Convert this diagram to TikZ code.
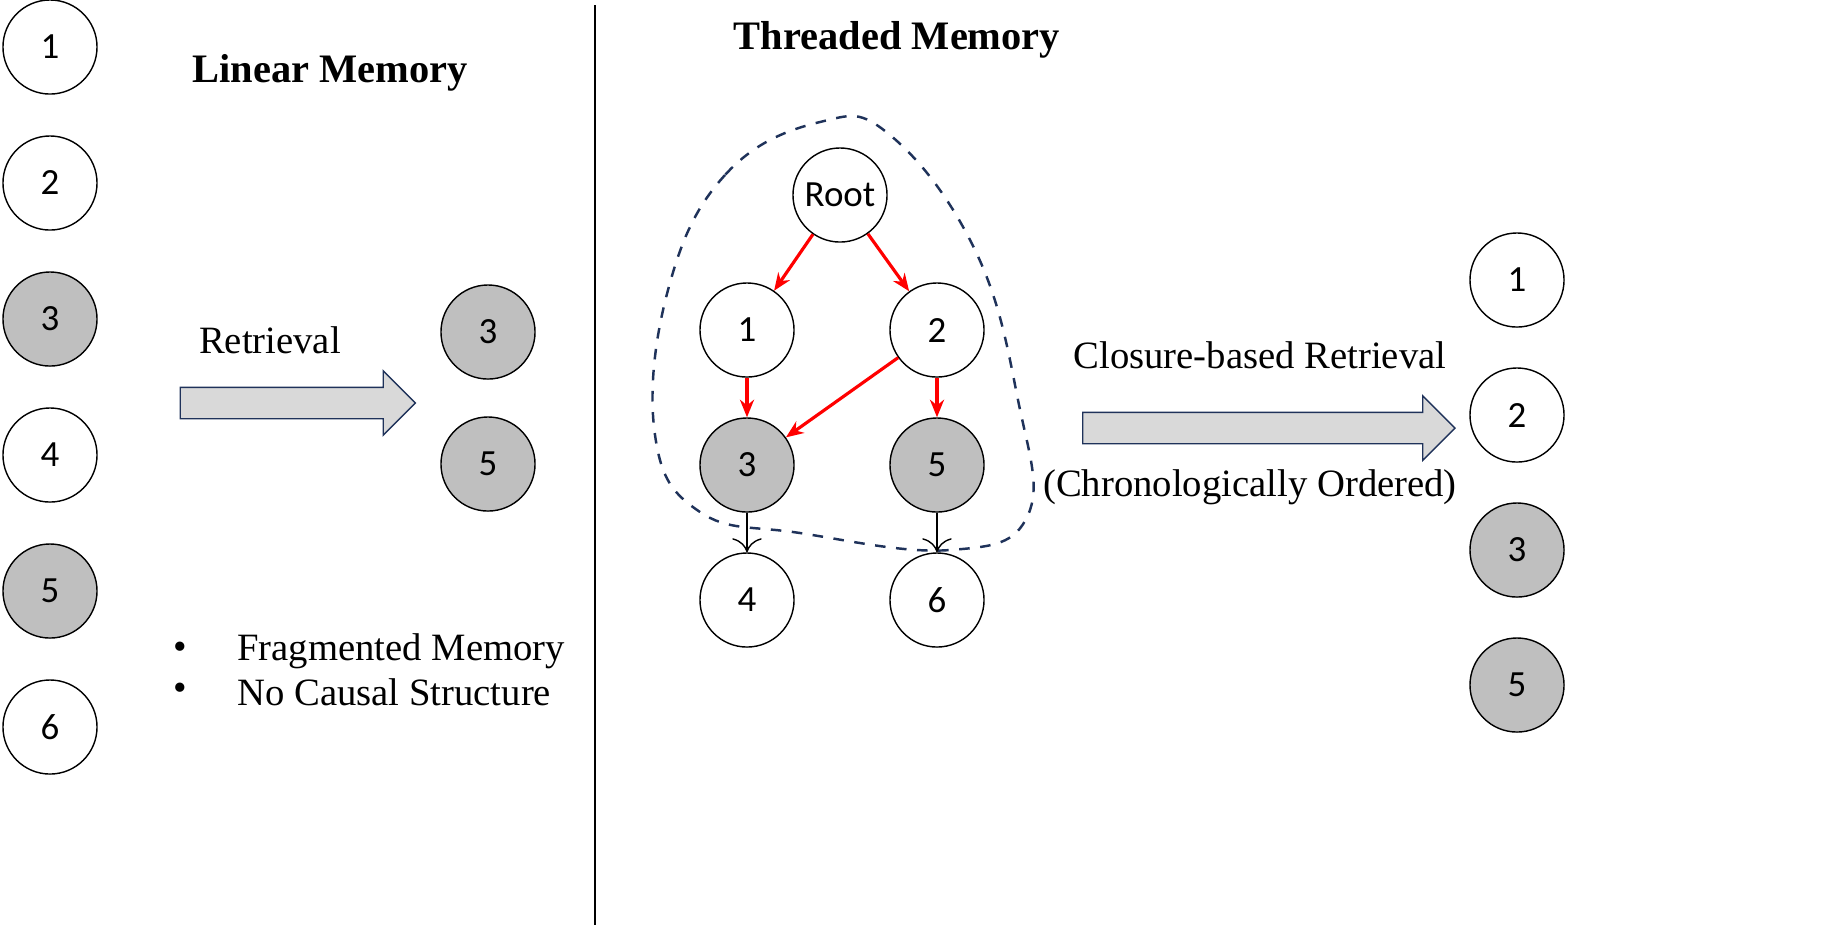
\documentclass[tikz,border=0pt]{standalone}
\usepackage{fontspec}
\setmainfont{Liberation Serif}
\newfontfamily\digitfont{Carlito}
\usetikzlibrary{shapes.arrows,arrows.meta}
\definecolor{cellgray}{RGB}{191,191,191}
\definecolor{barfill}{RGB}{217,217,217}
\definecolor{navy}{RGB}{31,50,90}
\tikzset{
  cell/.style={circle, draw=black, fill=white, minimum size=0.94cm, inner sep=0pt, font=\digitfont\fontsize{10.5}{11}\selectfont},
  hit/.style={cell, fill=cellgray},
  bigarrow/.style={single arrow, draw=navy, fill=barfill, single arrow head extend=0.165cm, inner sep=0.15cm, minimum height=#1},
  label/.style={font=\fontsize{11}{12}\selectfont},
  head/.style={font=\bfseries\fontsize{11.5}{12}\selectfont},
  causal/.style={draw=red, line width=0.9pt, -{Stealth[length=5pt,width=4pt]}},
  follow/.style={draw=black, line width=0.4pt, -{To[length=4pt]}}
}
\begin{document}
\begin{tikzpicture}[x=0.01cm, y=-0.01cm]
    \useasboundingbox (0,0) rectangle (1843,929);
    % linear memory column
    \path
    (50,47) node[cell] (l1) {1}
    (50,183) node[cell] (l2) {2}
    (50,319) node[hit] (l3) {3}
    (50,455) node[cell] (l4) {4}
    (50,591) node[hit] (l5) {5}
    (50,727) node[cell] (l6) {6};
    \path (330,73) node[head] (lintitle) {Linear Memory}
    (270,340) node[label] (retr) {Retrieval}
    (290,403) node[bigarrow=2.35cm] (larrow) {}
    (488,332) node[hit] (r3) {3}
    (488,464) node[hit] (r5) {5}
    (180,651) node[label] (b1) {\textbullet}
    (180,692) node[label] (b2) {\textbullet}
    (225,651) node[label, anchor=west] (t1) {Fragmented Memory}
    (225,692) node[label, anchor=west] (t2) {No Causal Structure};

    \draw[line width=0.6pt] (595,5) -- (595,925);

    % threaded memory
    \path (897,40) node[head] (thrtitle) {Threaded Memory}
    (840,195) node[cell] (root) {Root}
    (747,330) node[cell] (n1) {1}
    (937,330) node[cell] (n2) {2}
    (747,465) node[hit] (n3) {3}
    (937,465) node[hit] (n5) {5}
    (747,600) node[cell] (n4) {4}
    (937,600) node[cell] (n6) {6};
    \draw[navy, dashed, line width=0.7pt] plot[smooth cycle, tension=0.7] coordinates
      {(820,122) (725,175) (668,290) (655,435) (700,512) (800,533) (950,550) (1028,515) (1018,400) (975,250) (890,135)};
    \draw[causal] (root) -- (n1);
    \draw[causal] (root) -- (n2);
    \draw[causal] (n1) -- (n3);
    \draw[causal] (n2) -- (n3);
    \draw[causal] (n2) -- (n5);
    \draw[follow] (n3) -- (n4);
    \draw[follow] (n5) -- (n6);

    % closure-based retrieval
    \path (1260,355) node[label] (cretr) {Closure-based Retrieval}
    (1250,487) node[label] (chron) {(Chronologically Ordered)}
    (1261,428) node[bigarrow=3.72cm] (rarrow) {}
    (1517,280) node[cell] (c1) {1}
    (1517,415) node[cell] (c2) {2}
    (1517,550) node[hit] (c3) {3}
    (1517,685) node[hit] (c5) {5};
\end{tikzpicture}
\end{document}
